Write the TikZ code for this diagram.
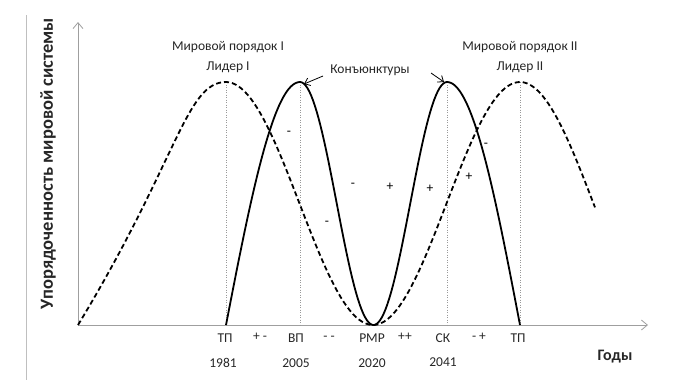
\documentclass[tikz,border=0pt]{standalone}
\usepackage{fontspec}
\setmainfont{Carlito}
\usetikzlibrary{arrows.meta}
\begin{document}
\begin{tikzpicture}[x=1pt,y=-1pt,
 axisline/.style={draw=gray!75, line width=0.8pt, -{Straight Barb[length=6pt,width=10pt]}},
 curve/.style={line width=1.8pt, black, line join=round},
 dashcurve/.style={curve, dash pattern=on 5pt off 3pt},
 guide/.style={draw=gray!80, line width=0.5pt, dotted},
 lbl/.style={font=\fontsize{13.5}{15}\selectfont, inner sep=0pt, text=black!85},
 sgn/.style={font=\fontsize{13.5}{15}\selectfont, inner sep=0pt},
 pointer/.style={line width=0.8pt, -{Straight Barb[length=5pt,width=8pt]}},
]
\useasboundingbox (0,0) rectangle (678,384);
% frame line at left
\draw[gray!50, line width=0.8pt] (26,15) -- (26,380);
% axes
\coordinate (O) at (78,325);
\coordinate (ytop) at (78,22);
\coordinate (xend) at (648,325);
\draw[axisline] (O) -- (ytop);
\draw[axisline] (O) -- (xend);
% guides
\coordinate (g1) at (226,82); \coordinate (b1) at (226,325);
\coordinate (g2) at (300,82); \coordinate (b2) at (300,325);
\coordinate (g3) at (447,82); \coordinate (b3) at (447,325);
\coordinate (g4) at (520,82); \coordinate (b4) at (520,325);
\draw[guide] (g1) -- (b1);
\draw[guide] (g2) -- (b2);
\draw[guide] (g3) -- (b3);
\draw[guide] (g4) -- (b4);
% dashed curve
\draw[dashcurve] (O) .. controls (178,160) and (186,82) .. (g1)
  -- plot[domain=226:595,samples=120] (\x,{325-121.5*(1+cos((\x-226)/147*180))});
% solid curve
\draw[curve] plot[domain=226:300,samples=40] (\x,{325-243*sin((\x-226)/74*90)})
  -- plot[domain=300:447,samples=80] (\x,{325-121.5*(1+cos((\x-300)/73.5*180))})
  -- plot[domain=447:520,samples=40] (\x,{325-243*sin((520-\x)/73*90)});
% labels
\node[lbl] (mp1) at (228,47) {Мировой порядок I};
\node[lbl] (ld1) at (228,67) {Лидер I};
\node[lbl] (mp2) at (520,47) {Мировой порядок II};
\node[lbl] (ld2) at (520,67) {Лидер II};
\node[lbl] (konj) at (370,70) {Конъюнктуры};
\draw[pointer] (323,76) -- (304,84);
\draw[pointer] (431,73) -- (444,82);
% y label
\node[font=\bfseries\fontsize{18.5}{20}\selectfont, rotate=90, inner sep=0pt, text=black!85] (ylab) at (48,163.5) {Упорядоченность мировой системы};
\node[font=\bfseries\fontsize{16}{18}\selectfont, inner sep=0pt, text=black!85] (xlab) at (615,357) {Годы};
% signs in plot
\node[sgn] (s1) at (289,133) {-};
\node[sgn] (s2) at (327,223) {-};
\node[sgn] (s3) at (353,185) {-};
\node[sgn] (s4) at (390,187) {+};
\node[sgn] (s5) at (430,189) {+};
\node[sgn] (s6) at (469,177) {+};
\node[sgn] (s7) at (486,145) {-};
% bottom labels
\node[lbl] (t1) at (225,338) {ТП};
\node[lbl] (t2) at (260,337) {+ -};
\node[lbl] (t3) at (296,338) {ВП};
\node[lbl] (t4) at (329,338) {- -};
\node[lbl] (t5) at (372,338) {РМР};
\node[lbl] (t6) at (405,337) {++};
\node[lbl] (t7) at (443,338) {СК};
\node[lbl] (t8) at (479,337) {- +};
\node[lbl] (t9) at (518,338) {ТП};
\node[lbl] (y1) at (223,363) {1981};
\node[lbl] (y2) at (296,363) {2005};
\node[lbl] (y3) at (372,363) {2020};
\node[lbl] (y4) at (443,362) {2041};
\end{tikzpicture}
\end{document}
